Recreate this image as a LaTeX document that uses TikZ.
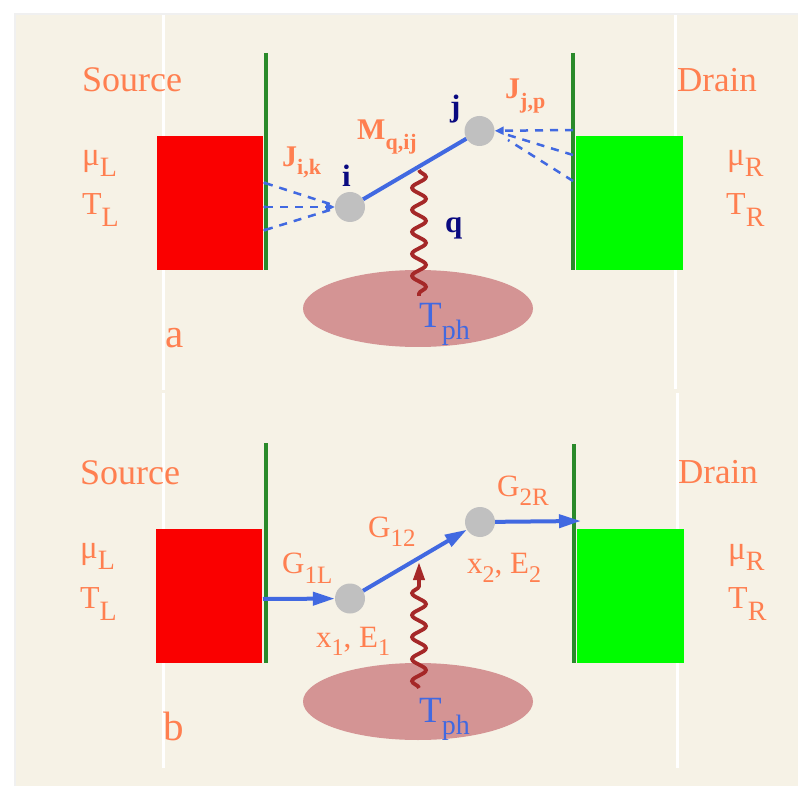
\documentclass[tikz,border=0pt]{standalone}
\usepackage{fontspec}
\usepackage{graphicx}
\setmainfont{Liberation Serif}
\usetikzlibrary{arrows.meta,decorations.pathmorphing,shapes.geometric}
\definecolor{bgbeige}{HTML}{F6F2E6}
\definecolor{labor}{HTML}{FF7F50}
\definecolor{roy}{HTML}{4169E1}
\definecolor{navyd}{HTML}{0A0A80}
\definecolor{dotg}{HTML}{C0C0C0}
\definecolor{bathc}{HTML}{D49494}
\definecolor{wavec}{HTML}{A52828}
\definecolor{wallg}{HTML}{2A8A2A}
\definecolor{redf}{HTML}{FA0000}
\definecolor{grnf}{HTML}{00FC00}
\newcommand{\fsz}[1]{\fontsize{#1}{#1}\selectfont}
\newcommand{\lsub}[3]{\raisebox{-#1pt}{\fsz{#2}#3}}
\tikzset{
  lab/.style={inner sep=0pt, anchor=base west, text=labor},
  nlab/.style={inner sep=0pt, anchor=base west, text=navyd},
  blab/.style={inner sep=0pt, anchor=base west, text=roy},
  dotnode/.style={circle, fill=dotg, inner sep=0pt, minimum size=30pt},
  bath/.style={ellipse, fill=bathc, inner sep=0pt, minimum width=230pt, minimum height=77pt},
  redbox/.style={rectangle, fill=redf, inner sep=0pt, minimum width=106pt, minimum height=134pt},
  grnbox/.style={rectangle, fill=grnf, inner sep=0pt, minimum width=107pt, minimum height=134pt},
  wallline/.style={draw=wallg, line width=4pt},
  whiteline/.style={draw=white, line width=3pt},
  hop/.style={draw=roy, line width=4pt},
  barrow/.style={draw=roy, fill=roy, line width=4pt, -{Triangle[length=22pt,width=13pt]}},
  tunnel/.style={draw=roy, line width=2.5pt, dash pattern=on 8pt off 7pt},
  tunnela/.style={tunnel, -{Triangle[length=9pt,width=8pt]}},
  wave/.style={draw=wavec, line width=3.8pt, decorate, decoration={snake, amplitude=7pt, segment length=22pt}},
}
\begin{document}
\begin{tikzpicture}[x=1pt,y=-1pt]
\useasboundingbox (0,0) rectangle (798,786);
\fill[white] (0,0) rectangle (798,786);
\fill[black!6] (14,13) rectangle (798,786);
\fill[bgbeige] (16,15) rectangle (798,786);
% white guide lines
\draw[whiteline] (163,15) -- (163,390);
\draw[whiteline] (163,393) -- (163,768);
\draw[whiteline] (675,15) -- (675,389);
\draw[whiteline] (677,393) -- (677,768);

% ===== panel a =====
\node[bath] (bathA) at (418,308.5) {};
\node[redbox] (redA) at (210,203) {};
\node[grnbox] (grnA) at (629.5,203) {};
\draw[wallline] (265.5,53) -- (265.5,270);
\draw[wallline] (572.7,53) -- (572.7,270);
\coordinate (wl1) at (265,183);
\coordinate (wl2) at (265,207);
\coordinate (wl3) at (265,230);
\coordinate (wr1) at (573,130);
\coordinate (wr2) at (573,155);
\coordinate (wr3) at (573,181);
\coordinate (qla) at (330,204);
\coordinate (qlb) at (330,210);
\coordinate (qr2) at (508,135);
\coordinate (qr3) at (508,140);
\coordinate (wvAt) at (419,170);
\coordinate (wvAb) at (419,296);
\draw[wave] (wvAt) -- (wvAb);
\node[dotnode] (i) at (350,207) {};
\node[dotnode] (j) at (479.5,131) {};
\draw[hop] (i) -- (j);
\draw[tunnel] (wl1) -- (qla);
\draw[tunnela] (wl2) -- (i);
\draw[tunnel] (wl3) -- (qlb);
\fill[roy] (wl1) circle (1.8pt) (wl2) circle (1.8pt) (wl3) circle (1.8pt);
\draw[tunnela] (wr1) -- (j);
\draw[tunnel] (wr2) -- (qr2);
\draw[tunnel] (wr3) -- (qr3);

\node[lab] (srcA) at (82,92) {\fsz{36}Source};
\node[lab] (drnA) at (677,92) {\fsz{35}Drain};
\node[lab] (muLA) at (82,166) {\fsz{33}μ\lsub{11}{28}{L}};
\node[lab] (TLA) at (82,215) {\fsz{32}T\lsub{12}{28}{L}};
\node[lab] (muRA) at (727,166) {\fsz{33}μ\lsub{11}{28}{R}};
\node[lab] (TRA) at (726,215) {\fsz{32}T\lsub{12}{28}{R}};
\node[lab] (aA) at (165,348) {\fsz{41}a};
\node[lab] (Jik) at (282,167) {\fsz{30}\bfseries J\lsub{8}{22}{i,k}};
\node[lab] (Mq) at (357,140) {\fsz{30}\bfseries M\lsub{10}{22}{q,ij}};
\node[lab] (Jjp) at (505,99) {\fsz{30}\bfseries J\lsub{10}{22}{j,p}};
\node[nlab] (il) at (342,187) {\fsz{31}\bfseries i};
\node[nlab] (jl) at (450,117) {\fsz{31}\bfseries j};
\node[nlab] (qlab) at (445,233) {\fsz{31}\bfseries q};
\node[blab] (TphA) at (419,328) {\fsz{37}T\lsub{12}{28}{ph}};

% ===== panel b =====
\node[bath] (bathB) at (418,701.5) {};
\node[redbox] (redB) at (208.5,595.5) {};
\node[grnbox] (grnB) at (630.5,595.5) {};
\draw[wallline] (265.5,443) -- (265.5,663);
\draw[wallline] (573.7,444) -- (573.7,663);
\node[dotnode] (c1) at (350,598.5) {};
\node[dotnode] (c2) at (480,522) {};
\coordinate (g1s) at (263,599);
\coordinate (g2e) at (581,521);
\coordinate (wvBb) at (419,688);
\coordinate (wvBt) at (419,562);
\draw[wave, decoration={post length=18pt}, -{Triangle[length=18pt,width=11pt]}] (wvBb) -- (wvBt);
\draw[barrow] (g1s) -- (c1);
\draw[barrow] (c1) -- (c2);
\draw[barrow] (c2) -- (g2e);

\node[lab] (srcB) at (80,484) {\fsz{36}Source};
\node[lab] (drnB) at (678,483) {\fsz{35}Drain};
\node[lab] (muLB) at (80,558) {\fsz{33}μ\lsub{11}{28}{L}};
\node[lab] (TLB) at (80,608) {\fsz{32}T\lsub{12}{28}{L}};
\node[lab] (muRB) at (728,559) {\fsz{33}μ\lsub{11}{28}{R}};
\node[lab] (TRB) at (728,608) {\fsz{32}T\lsub{12}{28}{R}};
\node[lab] (bB) at (163,740) {\fsz{41}b};
\node[lab] (G1L) at (282,573) {\fsz{31}G\lsub{10}{25}{1L}};
\node[lab] (G12) at (368,537) {\fsz{31}G\lsub{9}{25}{12}};
\node[lab] (G2R) at (497,496) {\fsz{31}G\lsub{9}{25}{2R}};
\node[lab] (xE1) at (316,647) {\fsz{31}x\lsub{8}{24}{1}, E\lsub{8}{24}{1}};
\node[lab] (xE2) at (467,573) {\fsz{31}x\lsub{9}{24}{2}, E\lsub{9}{24}{2}};
\node[blab] (TphB) at (419,722) {\fsz{37}T\lsub{12}{28}{ph}};
\end{tikzpicture}
\end{document}
